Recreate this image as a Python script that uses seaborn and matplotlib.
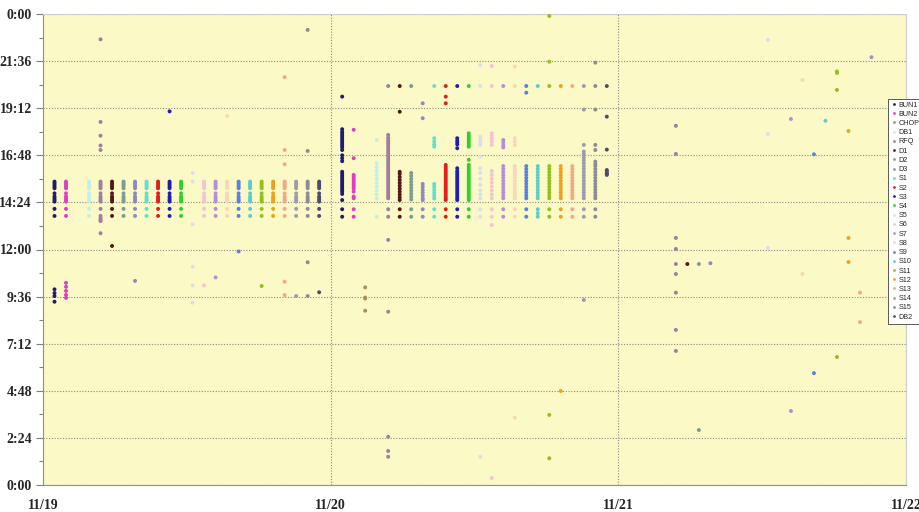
import matplotlib
matplotlib.use("Agg")
import matplotlib.pyplot as plt
import pandas as pd
import seaborn as sns
from matplotlib.ticker import MultipleLocator

sns.set_style("ticks")
plt.rcParams["font.family"] = ["Liberation Serif", "DejaVu Serif"]

# series, in legend order
SERIES = ["BUN1", "BUN2", "CHOP", "DB1", "RFQ", "D1", "D2", "D3", "S1", "S2", "S3", "S4",
          "S5", "S6", "S7", "S8", "S9", "S10", "S11", "S12", "S13", "S14", "S15", "DB2"]
# position of each series inside a day (fraction of a day)
SLOT = [0.04, 0.08, 0.12, 0.16, 0.20, 0.24, 0.28, 0.32, 0.36, 0.40, 0.44, 0.48,
        0.52, 0.56, 0.60, 0.64, 0.68, 0.72, 0.76, 0.80, 0.84, 0.88, 0.92, 0.96]
COLORS = ["#1c1c70", "#e03cc8", "#a8905c", "#bff0ee", "#a07ea0", "#5a1616", "#7f9c92", "#8a8ac4",
          "#5fe0d0", "#e01e1e", "#1e1eb4", "#2ed02e", "#dcdcf2", "#f2c4d4", "#b28edc", "#f6d6bc",
          "#5c80e0", "#5ccccc", "#92c01c", "#f0a01c", "#f0a888", "#9c9cb0", "#8c8c96", "#4c4c70"]
DAY_LABELS = ["11/19", "11/20", "11/21", "11/22"]
TIME_LABELS = ["0:00", "2:24", "4:48", "7:12", "9:36", "12:00", "14:24", "16:48", "19:12", "21:36", "0:00"]

# times of day in hours
core19 = [15.46, 15.38, 15.29, 15.2, 15.12, 14.86, 14.7, 14.61, 14.52, 14.44, 14.07, 13.71]
band20 = [16.25, 16.1, 15.95, 15.8, 15.65, 15.5, 15.35, 15.2, 15.05, 14.9, 14.75, 14.61, 14.05, 13.67]

DAY19 = {
    "BUN1": core19 + [9.97, 9.78, 9.63, 9.34],
    "BUN2": core19 + [10.3, 10.1, 9.89, 9.68, 9.53],
    "DB1": core19,
    "RFQ": core19 + [22.71, 18.5, 17.8, 17.3, 17.07, 13.6, 13.5, 13.45, 12.83],
    "D1": core19 + [12.18],
    "D2": core19,
    "D3": core19 + [10.4],
    "S1": core19,
    "S2": core19,
    "S3": core19 + [19.04],
    "S4": core19,
    "S5": [15.9, 15.46, 13.28, 11.12, 10.17, 9.29],
    "S6": core19 + [10.17],
    "S7": core19 + [10.58],
    "S8": core19 + [18.8],
    "S9": core19 + [11.9],
    "S10": core19,
    "S11": core19 + [10.14],
    "S12": core19,
    "S13": core19 + [20.78, 17.07, 16.34, 10.36, 9.68],
    "S14": core19 + [9.63],
    "S15": core19 + [23.19, 17.02, 11.35, 9.63],
    "DB2": core19 + [9.82],
}

DAY20 = {
    "BUN1": [19.79, 18.13, 18.0, 17.9, 17.8, 17.7, 17.6, 17.5, 17.4, 17.3, 17.2, 17.07, 16.8, 16.65,
             16.5, 15.96, 15.85, 15.75, 15.65, 15.55, 15.45, 15.35, 15.25, 15.15, 15.05, 14.95,
             14.83, 14.52, 14.05, 13.67],
    "BUN2": [18.1, 16.65, 15.8, 15.7, 15.6, 15.5, 15.4, 15.3, 15.2, 15.1, 14.95, 14.7, 14.61, 14.05, 13.67],
    "CHOP": [10.07, 9.55, 9.5, 8.88],
    "DB1": [17.58, 16.4, 16.2, 16.0, 15.8, 15.6, 15.4, 15.2, 15.0, 14.8, 14.6, 13.67],
    "RFQ": [20.33, 17.84, 17.7, 17.6, 17.5, 17.4, 17.3, 17.2, 17.1, 17.0, 16.9, 16.8, 16.7, 16.6,
            16.5, 16.4, 16.3, 16.2, 16.1, 16.0, 15.9, 15.8, 15.7, 15.6, 15.5, 15.4, 15.3, 15.2,
            15.1, 15.0, 14.9, 14.8, 14.7, 14.61, 14.05, 13.67, 12.49, 8.83, 2.46, 1.73, 1.44],
    "D1": [20.33, 19.02, 15.96, 15.85, 15.7, 15.55, 15.4, 15.25, 15.1, 14.95, 14.8, 14.65, 14.52, 14.05, 13.67],
    "D2": [20.33, 15.9, 15.75, 15.6, 15.45, 15.3, 15.15, 15.0, 14.85, 14.7, 14.55, 14.05, 13.67],
    "D3": [19.45, 18.69, 15.34, 15.2, 15.05, 14.9, 14.75, 14.6, 14.52, 14.05, 13.67],
    "S1": [20.33, 17.67, 17.5, 17.35, 17.24, 15.34, 15.2, 15.05, 14.9, 14.75, 14.6, 14.05, 13.67],
    "S2": [20.33, 19.79, 19.45, 16.31, 16.2, 16.1, 16.0, 15.9, 15.8, 15.7, 15.6, 15.5, 15.4, 15.3,
           15.2, 15.1, 15.0, 14.9, 14.8, 14.7, 14.6, 14.52, 14.05, 13.67],
    "S3": [20.33, 17.67, 17.55, 17.45, 17.35, 17.16, 16.14, 16.0, 15.9, 15.8, 15.7, 15.6, 15.5,
           15.4, 15.3, 15.2, 15.1, 15.0, 14.9, 14.8, 14.7, 14.6, 14.52, 14.05, 13.67],
    "S4": [20.33, 17.92, 17.8, 17.7, 17.6, 17.5, 17.4, 17.3, 17.24, 16.57, 16.31, 16.2, 16.1, 16.0,
           15.9, 15.8, 15.7, 15.6, 15.5, 15.4, 15.3, 15.2, 15.1, 15.0, 14.9, 14.8, 14.7, 14.6,
           14.52, 14.05, 13.67],
    "S5": [21.4, 20.33, 17.75, 17.6, 17.45, 17.33, 16.74, 16.14, 15.9, 15.6, 15.3, 15.0, 14.8,
           14.61, 14.05, 13.67, 1.44],
    "S6": [21.35, 20.33, 17.92, 17.8, 17.65, 17.5, 17.33, 16.0, 15.8, 15.6, 15.4, 15.2, 15.0,
           14.8, 14.61, 14.05, 13.67, 13.25, 0.36],
    "S7": [20.33, 17.58, 17.45, 17.3, 17.2] + band20,
    "S8": [21.32, 20.33, 17.67, 17.5, 17.33, 3.43] + band20,
    "S9": [20.33, 19.99] + band20,
    "S10": [20.33, 13.85] + band20,
    "S11": [23.9, 21.57, 20.33, 3.57, 1.36] + band20,
    "S12": [20.33, 4.79] + band20,
    "S13": [20.33] + band20,
    "S14": [20.33, 19.13, 17.33, 16.99, 16.85, 16.7, 16.55, 16.4, 9.43] + band20,
    "S15": [21.52, 20.33, 19.13, 17.33, 17.07, 16.48, 16.35] + band20,
    "DB2": [20.33, 18.77, 17.09, 16.05, 15.98, 15.9, 15.85, 15.8],
}

DAY21 = {
    "RFQ": [18.3, 16.87, 12.59, 12.03, 11.26, 10.75, 9.8, 7.9, 6.83],
    "D1": [11.26],
    "D2": [11.26, 2.8],
    "D3": [11.3],
    "S5": [22.68, 17.89, 12.08],
    "S7": [18.65, 3.77],
    "S8": [20.64, 10.75],
    "S9": [16.85, 5.7],
    "S10": [18.56],
    "S11": [21.07, 21.0, 20.13, 6.52],
    "S12": [18.04, 12.59, 11.36],
    "S13": [9.8, 8.3],
    "S14": [21.8],
}

rows = []
for day, table in enumerate([DAY19, DAY20, DAY21]):
    for name, times in table.items():
        slot = SLOT[SERIES.index(name)]
        for t in times:
            rows.append({"series": name, "date": day + slot, "time": t})
df = pd.DataFrame(rows)

fig = plt.figure(figsize=(9.19, 5.12), dpi=100)
ax = fig.add_axes([43 / 919, 1 - 485 / 512, 863 / 919, 471 / 512])
ax.set_facecolor("#fbf9c6")

sns.scatterplot(data=df, x="date", y="time", hue="series", hue_order=SERIES,
                palette=dict(zip(SERIES, COLORS)), s=8, linewidth=0, ax=ax, zorder=3)

ax.set_xlim(0, 3)
ax.set_ylim(0, 24)
ax.set_xticks(range(4))
ax.set_xticklabels(DAY_LABELS)
ax.set_yticks([i * 2.4 for i in range(11)])
ax.set_yticklabels(TIME_LABELS)
ax.yaxis.set_minor_locator(MultipleLocator(1.2))
ax.tick_params(axis="y", which="major", length=5, width=0.8, color="#808080", pad=3, labelsize=10)
ax.tick_params(axis="y", which="minor", length=3, width=0.8, color="#808080")
ax.tick_params(axis="x", length=0, pad=10, labelsize=10)
for lab in ax.get_xticklabels() + ax.get_yticklabels():
    lab.set_fontweight("bold")

ax.grid(True, axis="both", which="major", color="#8a8a80", linestyle=(0, (1, 1.5)), linewidth=0.8)
ax.set_axisbelow(True)
for side in ["top", "right"]:
    ax.spines[side].set_color("#d0d0d0")
for side in ["left", "bottom"]:
    ax.spines[side].set_color("#909090")
ax.set_xlabel(None)
ax.set_ylabel(None)

sns.move_legend(ax, "upper left", bbox_to_anchor=(884 / 919, 1 - 95 / 512),
                bbox_transform=fig.transFigure, title=None, frameon=True,
                prop={"family": "Liberation Sans", "size": 5.2}, labelspacing=0.3,
                handletextpad=0.1, handlelength=1.0, borderpad=0.4, markerscale=0.7,
                fancybox=False, edgecolor="#404040", framealpha=1)
ax.get_legend().get_frame().set_linewidth(0.6)

fig.savefig("out.png", dpi=100)
